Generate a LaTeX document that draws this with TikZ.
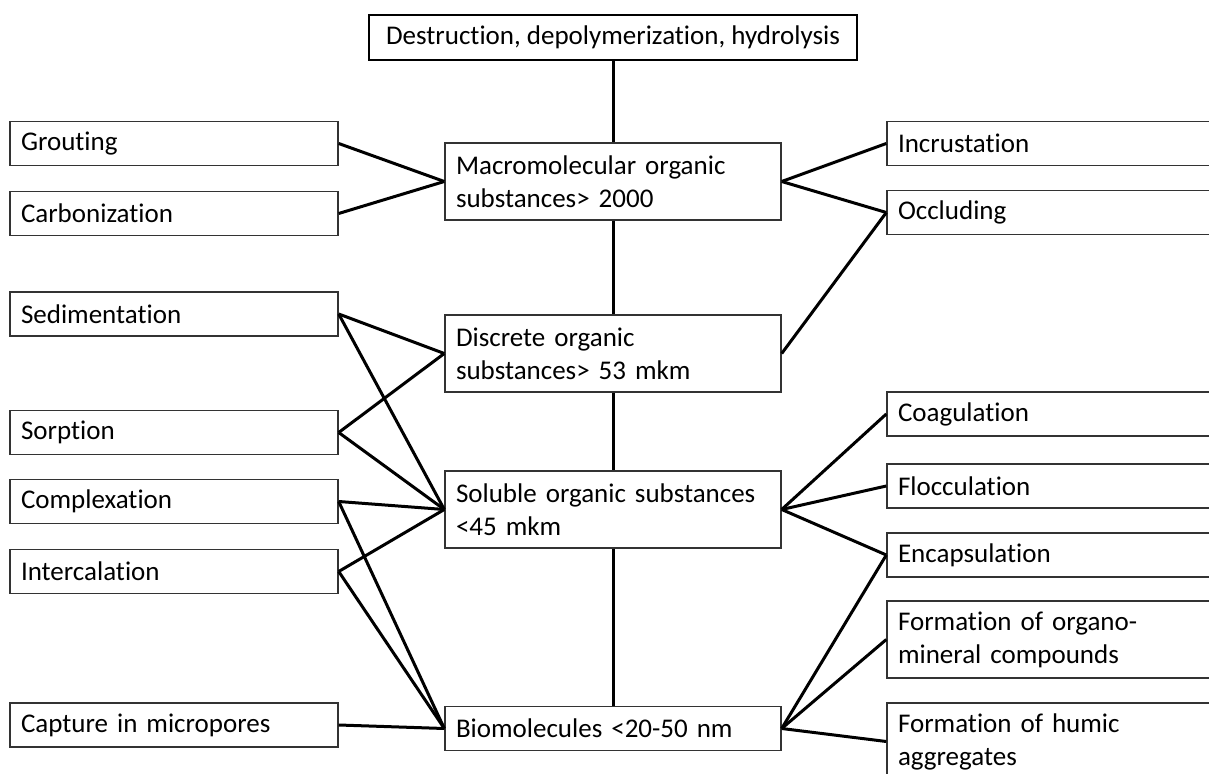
\documentclass[tikz,border=0pt]{standalone}
\usepackage{fontspec}
\setmainfont{Carlito}[Ligatures=NoCommon]
\usetikzlibrary{positioning}

\begin{document}
\begin{tikzpicture}[x=0.5pt, y=-0.5pt,
    font=\fontsize{13.5}{16.5}\selectfont,
    box/.style={draw=black!80, line width=0.7pt, rectangle, minimum width=164pt, minimum height=22pt, text width=153pt, inner xsep=5.5pt, align=left},
    midbox/.style={box, minimum width=168pt, text width=157pt},
    tallbox/.style={minimum height=38.5pt},
    topbox/.style={draw=black, line width=1.3pt, rectangle, minimum width=244pt, minimum height=22.5pt, align=center},
    link/.style={line width=1.5pt}]

    \useasboundingbox (0,0) rectangle (1209,774);
    \clip (0,0) rectangle (1209,774);

    % Define nodes
    \node (top) [topbox] at (613,37.5) {Destruction, depolymerization, hydrolysis};

    \node (macro) [midbox, tallbox] at (613,181.5) {Macromolecular organic\\substances> 2000};
    \node (discrete) [midbox, tallbox] at (613,353.5) {Discrete organic\\substances> 53 mkm};
    \node (soluble) [midbox, tallbox] at (613,509.5) {Soluble organic substances\\<45 mkm};
    \node (bio) [midbox] at (613,728.5) {Biomolecules <20-50 nm};

    \node (grout) [box] at (174,143.5) {Grouting};
    \node (carbon) [box] at (174,213.5) {Carbonization};
    \node (sedim) [box] at (174,314) {Sedimentation};
    \node (sorp) [box] at (174,432.5) {Sorption};
    \node (complex) [box] at (174,501.5) {Complexation};
    \node (intercal) [box] at (174,571.5) {Intercalation};
    \node (capture) [box] at (174,725) {Capture in micropores};

    \node (incrust) [box] at (1051,143.5) {Incrustation};
    \node (occlud) [box] at (1051,212.5) {Occluding};
    \node (coag) [box] at (1051,414) {Coagulation};
    \node (floc) [box] at (1051,486) {Flocculation};
    \node (encaps) [box] at (1051,555) {Encapsulation};
    \node (organo) [box, tallbox] at (1051,639.5) {Formation of organo-\\mineral compounds};
    \node (humic) [box, tallbox] at (1051,741.5) {Formation of humic\\aggregates};

    % Draw links
    \draw[link] (top) -- (macro);
    \draw[link] (macro) -- (discrete);
    \draw[link] (discrete) -- (soluble);
    \draw[link] (soluble) -- (bio);

    \draw[link] (grout.east) -- (macro.west);
    \draw[link] (carbon.east) -- (macro.west);
    \draw[link] (sedim.east) -- (discrete.west);
    \draw[link] (sedim.east) -- (soluble.west);
    \draw[link] (sorp.east) -- (discrete.west);
    \draw[link] (sorp.east) -- (soluble.west);
    \draw[link] (complex.east) -- (soluble.west);
    \draw[link] (complex.east) -- (bio.west);
    \draw[link] (intercal.east) -- (soluble.west);
    \draw[link] (intercal.east) -- (bio.west);
    \draw[link] (capture.east) -- (bio.west);

    \draw[link] (macro.east) -- (incrust.west);
    \draw[link] (macro.east) -- (occlud.west);
    \draw[link] (discrete.east) -- (occlud.west);
    \draw[link] (soluble.east) -- (coag.west);
    \draw[link] (soluble.east) -- (floc.west);
    \draw[link] (soluble.east) -- (encaps.west);
    \draw[link] (bio.east) -- (encaps.west);
    \draw[link] (bio.east) -- (organo.west);
    \draw[link] (bio.east) -- (humic.west);

\end{tikzpicture}
\end{document}
